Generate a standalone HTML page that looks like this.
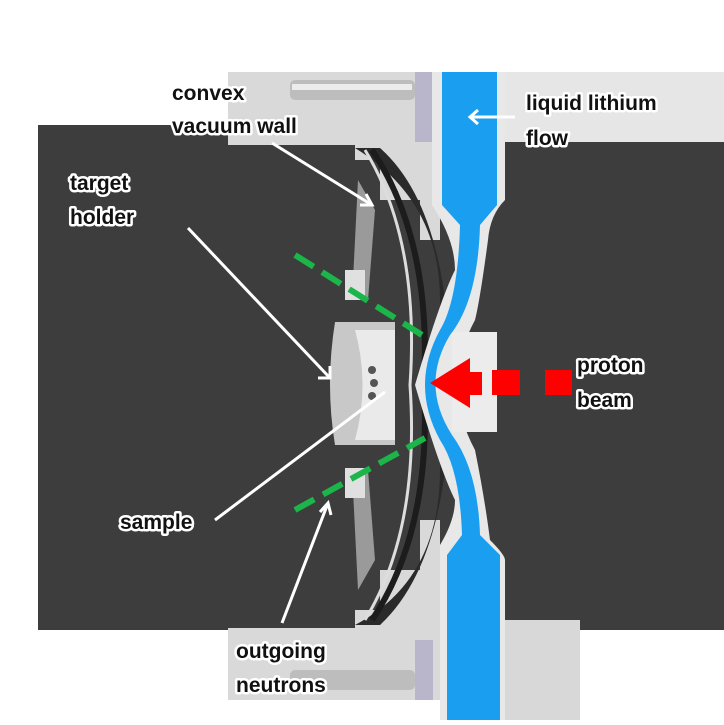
<!DOCTYPE html>
<html><head><style>
body{margin:0;background:#fff;}
svg text{font-family:"Liberation Sans",sans-serif;font-weight:bold;font-size:21px;fill:#111;paint-order:stroke;stroke:#fff;stroke-width:5px;stroke-linejoin:round;}
</style></head><body>
<svg width="724" height="720" viewBox="0 0 724 720" xmlns="http://www.w3.org/2000/svg">
<rect width="724" height="720" fill="#fff"/>
<!-- dark background -->
<rect x="38" y="125" width="686" height="505" fill="#3d3d3d"/>
<!-- right top light area -->
<rect x="500" y="72" width="224" height="70" fill="#e6e6e6"/>
<rect x="500" y="620" width="80" height="100" fill="#d8d8d8"/>
<!-- top housing -->
<path d="M228 72 H440 V240 H420 V200 H380 V160 H355 V145 H228 Z" fill="#d9d9d9"/>
<rect x="290" y="80" width="125" height="20" rx="5" fill="#bdbdbd"/>
<rect x="292" y="84" width="120" height="6" fill="#ececec"/>
<rect x="415" y="72" width="18" height="70" fill="#b9b6cc"/>
<!-- bottom housing -->
<path d="M228 700 H440 V520 H420 V570 H380 V610 H355 V628 H228 Z" fill="#d9d9d9"/>
<rect x="290" y="670" width="125" height="20" rx="5" fill="#bdbdbd"/>
<rect x="415" y="640" width="18" height="60" fill="#b9b6cc"/>
<!-- curved wall dark region -->
<path d="M355 148 Q440 200 440 300 L440 470 Q440 580 355 625 L380 625 Q450 560 450 385 Q450 210 380 148 Z" fill="#2a2a2a"/>
<path d="M365 150 Q420 240 410 385 Q420 530 365 620" fill="none" stroke="#ddd" stroke-width="3"/>
<path d="M372 150 Q432 240 424 385 Q432 530 372 620" fill="none" stroke="#1c1c1c" stroke-width="6"/>
<!-- frame struts -->
<path d="M358 180 L375 210 L368 300 L352 300 Z" fill="#9a9a9a"/>
<path d="M358 590 L375 560 L368 470 L352 470 Z" fill="#9a9a9a"/>
<rect x="345" y="270" width="20" height="30" fill="#e0e0e0"/>
<rect x="345" y="468" width="20" height="30" fill="#e0e0e0"/>
<!-- target holder -->
<path d="M335 322 H395 V445 H335 Q325 385 335 322 Z" fill="#c8c8c8"/>
<path d="M355 330 Q370 385 355 440 H395 V330 Z" fill="#eaeaea"/>
<circle cx="372" cy="370" r="4" fill="#555"/><circle cx="374" cy="383" r="4" fill="#555"/><circle cx="372" cy="396" r="4" fill="#555"/>
<!-- lithium channel walls -->
<path d="M432 72 H505 V200 Q490 215 488 240 Q480 300 475 320 Q440 385 475 450 Q485 500 490 540 Q505 555 505 560 V720 H440 V545 Q455 520 455 500 Q440 470 415 385 Q440 300 455 270 Q455 240 432 205 Z" fill="#e8e8e8"/>
<rect x="452" y="332" width="45" height="100" fill="#ececec"/>
<!-- blue lithium -->
<path d="M442 72 H497 V205 L480 225 Q478 300 450 335 Q420 385 452 435 Q478 470 480 535 L500 555 V720 H447 V555 L462 535 Q460 470 440 440 Q410 385 440 330 Q458 300 460 225 L442 205 Z" fill="#1a9ff0"/>
<!-- red beam -->
<path d="M430 383 L470 358 V372 H482 V395 H470 V408 Z" fill="#f00"/>
<rect x="492" y="370" width="28" height="25" fill="#f00"/>
<rect x="545" y="370" width="27" height="25" fill="#f00"/>
<!-- green dashed -->
<line x1="295" y1="255" x2="422" y2="335" stroke="#1bb54a" stroke-width="6" stroke-dasharray="22,10"/>
<line x1="295" y1="510" x2="425" y2="438" stroke="#1bb54a" stroke-width="6" stroke-dasharray="22,10"/>
<!-- white arrows -->
<g stroke="#fff" stroke-width="3" fill="none">
<line x1="272" y1="143" x2="372" y2="205"/><path d="M360 205 L372 205 L366 194"/>
<line x1="188" y1="228" x2="330" y2="378"/><path d="M318 378 L330 378 L330 366"/>
<line x1="215" y1="520" x2="385" y2="392"/>
<line x1="282" y1="623" x2="328" y2="503"/><path d="M320 512 L328 503 L331 515"/>
<line x1="515" y1="117" x2="470" y2="117"/><path d="M478 110 L470 117 L478 124"/>
</g>
<!-- labels -->
<text x="172" y="100">convex</text>
<text x="172" y="133">vacuum wall</text>
<text x="70" y="190">target</text>
<text x="70" y="224">holder</text>
<text x="526" y="110">liquid lithium</text>
<text x="526" y="145">flow</text>
<text x="577" y="372">proton</text>
<text x="577" y="407">beam</text>
<text x="120" y="529">sample</text>
<text x="236" y="658">outgoing</text>
<text x="236" y="692">neutrons</text>
</svg>
</body></html>
